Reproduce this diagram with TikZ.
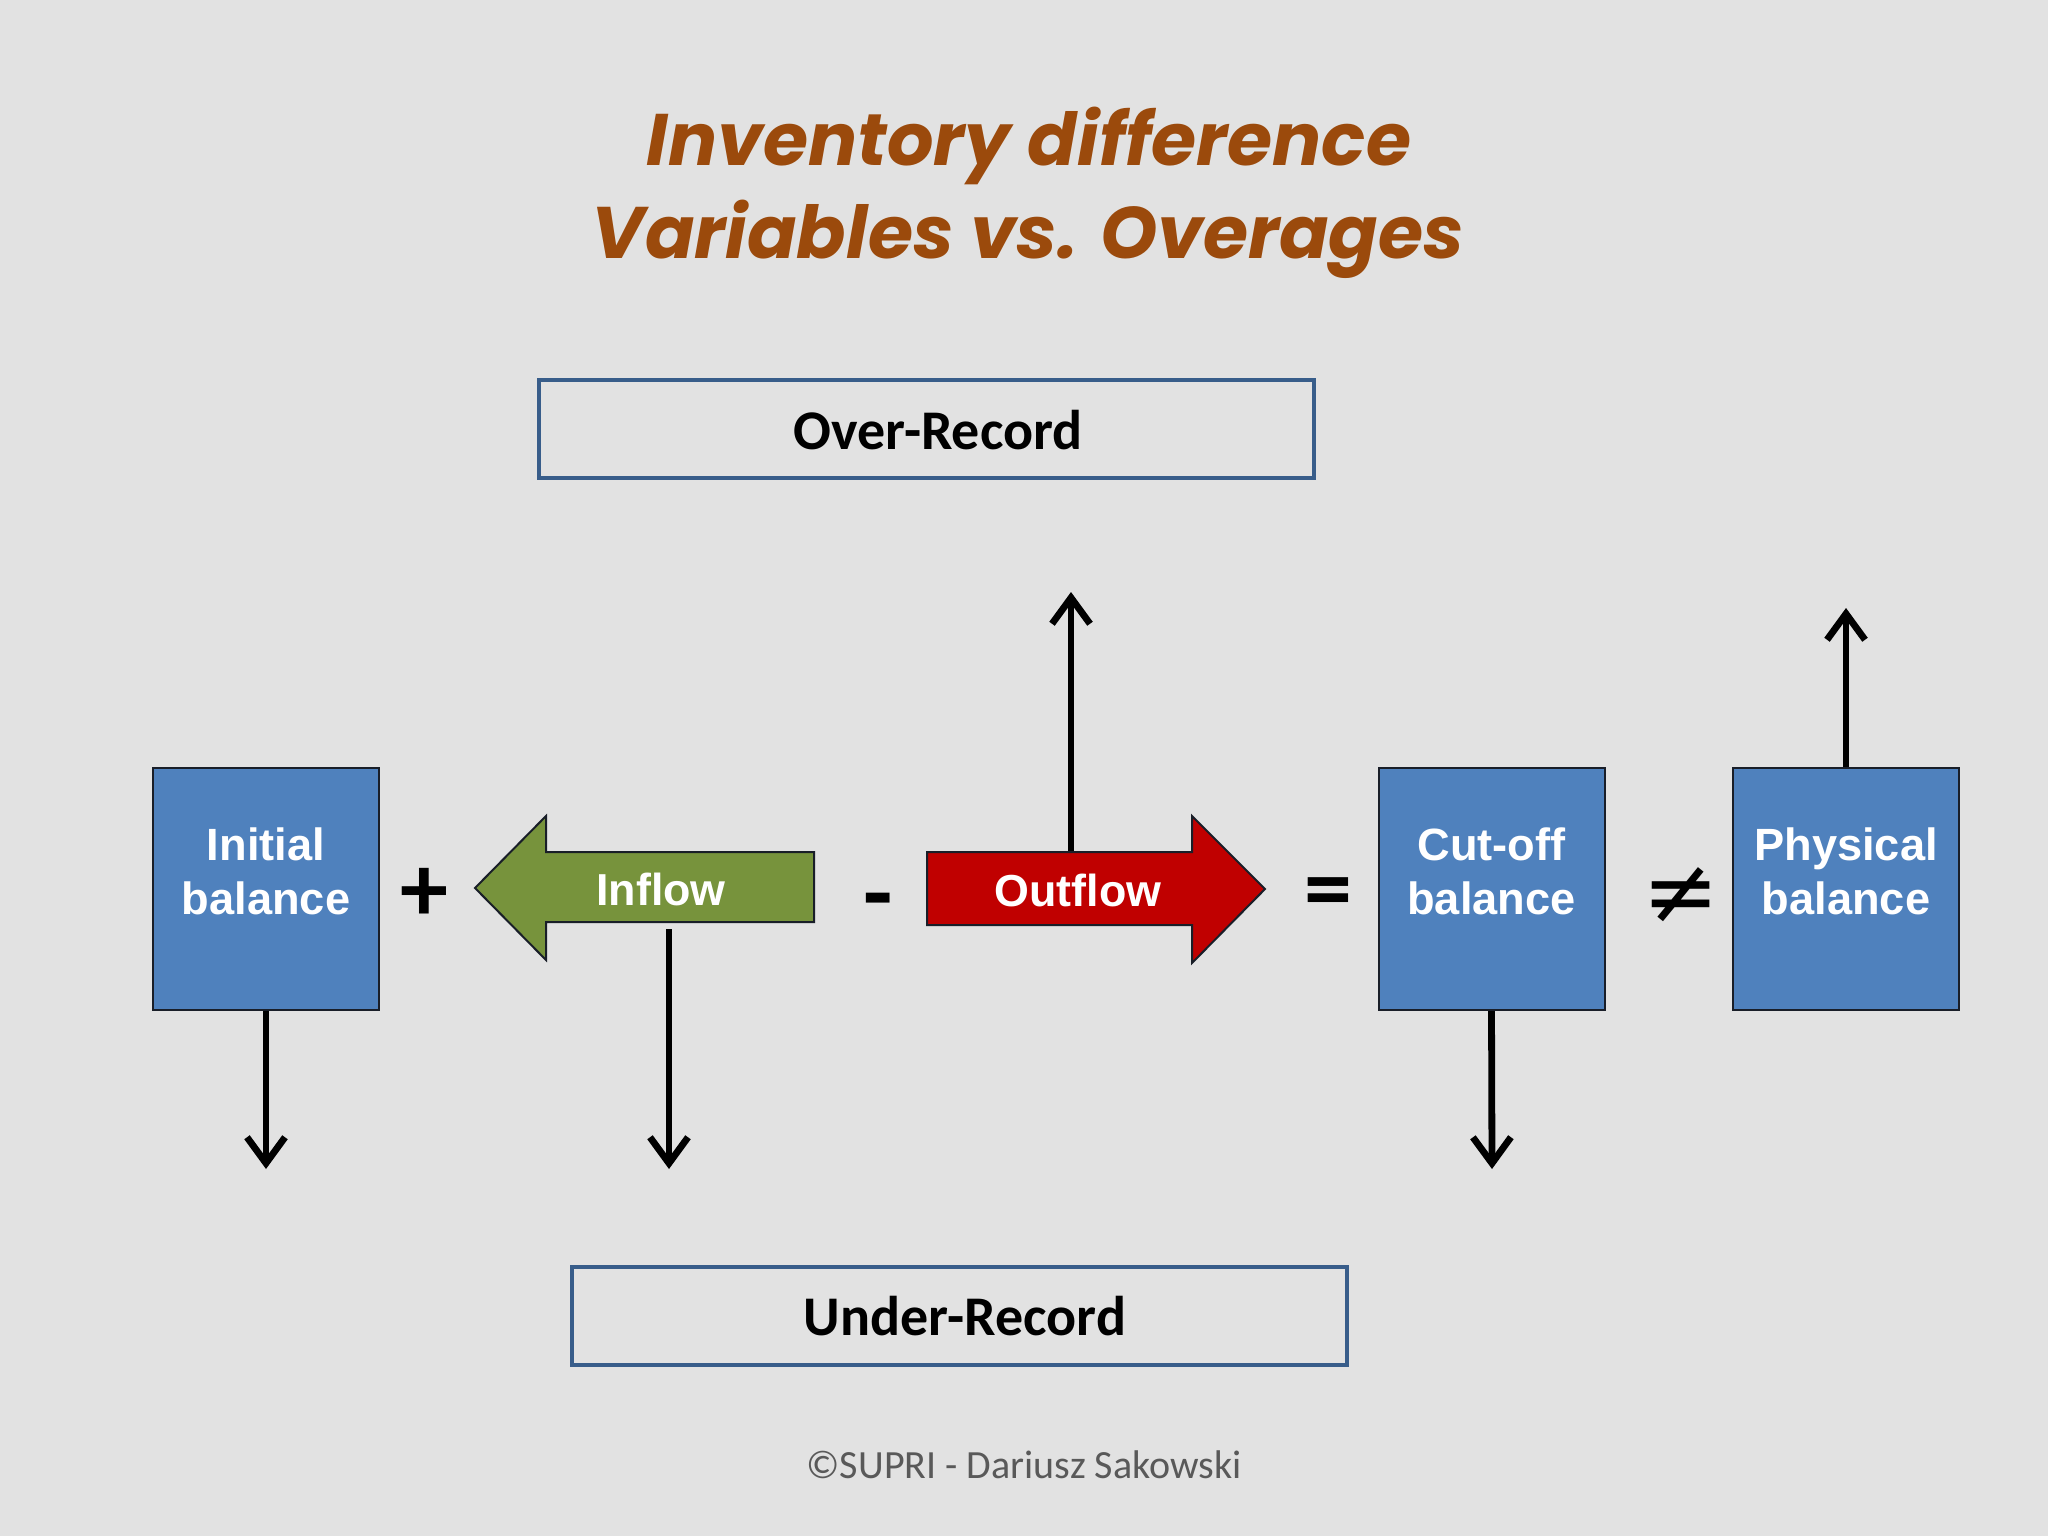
\documentclass[tikz,border=0pt]{standalone}
\usepackage{fontspec}
\usetikzlibrary{arrows.meta}
\newfontfamily\titlefont{Poppins}
\newfontfamily\boxfont{Liberation Sans}
\newfontfamily\calfont{Carlito}
\newfontfamily\symfont{DejaVu Sans}
\definecolor{bgcol}{RGB}{226,226,226}
\definecolor{titlecol}{RGB}{155,74,12}
\definecolor{boxblue}{RGB}{79,129,189}
\definecolor{framecol}{RGB}{56,93,138}
\definecolor{inflowgreen}{RGB}{119,147,60}
\definecolor{outflowred}{RGB}{192,0,0}
\definecolor{footgray}{RGB}{89,89,89}
\definecolor{edgecol}{RGB}{25,30,40}
\begin{document}
\begin{tikzpicture}[x=0.5pt,y=-0.5pt,
  bluebox/.style={draw=edgecol, line width=1pt, fill=boxblue, minimum width=113pt, minimum height=121pt, inner sep=0pt},
  boxtext/.style={text=white, font=\boxfont\bfseries\fontsize{22.6}{27}\selectfont, align=center, inner sep=0pt},
  recbox/.style={draw=framecol, line width=2pt, minimum width=387.5pt, minimum height=49pt, inner sep=0pt},
  rectext/.style={font=\calfont\bfseries\fontsize{28}{30}\selectfont, text=black, inner sep=0pt, anchor=base},
  optext/.style={font=\calfont\bfseries\fontsize{48}{48}\selectfont, text=black, inner sep=0pt},
  flowtext/.style={text=white, font=\boxfont\bfseries\fontsize{22.4}{26}\selectfont, inner sep=0pt, anchor=base},
  titletext/.style={text=titlecol, font=\titlefont\bfseries\itshape\fontsize{36.5}{40}\selectfont, inner sep=0pt, anchor=base},
  flowshape/.style={draw=edgecol, line width=1pt},
  conn/.style={line width=3.4pt, -{Straight Barb[length=13pt,width=19pt]}},
]
\useasboundingbox (0,0) rectangle (2048,1536);
\fill[bgcol] (0,0) rectangle (2048,1536);

% title
\node[titletext] (title1) at (1029,165) {Inventory difference};
\node[titletext] (title2) at (1028,258) {Variables vs. Overages};

% record boxes
\node[recbox] (over) at (926.5,429) {};
\node[rectext] (overtext) at (938,449) {Over-Record};
\node[recbox] (under) at (959,1316) {};
\node[rectext] (undertext) at (965,1335) {Under-Record};

% blue boxes
\node[bluebox] (initial) at (266,889) {};
\node[boxtext] (initialtext) at (266,871) {Initial\\balance};
\node[bluebox] (cutoff) at (1491.5,889) {};
\node[boxtext] (cutofftext) at (1491.5,871) {Cut-off\\balance};
\node[bluebox] (physical) at (1846,889) {};
\node[boxtext] (physicaltext) at (1846,871) {Physical\\balance};

% inflow arrow (pointing left)
\fill[inflowgreen] (475,888) -- (546,816) -- (546,852) -- (814,852) -- (814,922) -- (546,922) -- (546,960) -- cycle;
\draw[flowshape] (475,888) -- (546,816) -- (546,852) -- (814,852) -- (814,922) -- (546,922) -- (546,960) -- cycle;
\node[flowtext] (inflow) at (661,905) {Inflow};
\coordinate (inflowbottom) at (669,929);

% outflow arrow (pointing right)
\fill[outflowred] (927,852) -- (1192,852) -- (1192,816) -- (1265,889) -- (1192,963) -- (1192,925) -- (927,925) -- cycle;
\draw[flowshape] (927,852) -- (1192,852) -- (1192,816) -- (1265,889) -- (1192,963) -- (1192,925) -- (927,925) -- cycle;
\node[flowtext] (outflow) at (1078,906) {Outflow};
\coordinate (outflowtop) at (1071,851);

% operators
\node[optext] (plus) at (424,895) {+};
\node[optext] (minus) at (878,909) {-};
\node[optext] (equals) at (1328,899) {=};
\node[text=black, font=\symfont\fontsize{46}{46}\selectfont, inner sep=0pt] (neq) at (1681,896) {≠};

% connector ends
\coordinate (e1) at (266,1169);
\coordinate (e2) at (669,1169);
\coordinate (e3) at (1071,592);
\coordinate (e4) at (1492,1169);
\coordinate (e5) at (1846,608);

\draw[conn] (initial.south) -- (e1);
\draw[conn] (inflowbottom) -- (e2);
\draw[conn] (outflowtop) -- (e3);
\draw[conn] (cutoff.south) -- (e4);
\draw[conn] (physical.north) -- (e5);

% footer
\node[font=\calfont\fontsize{20}{22}\selectfont, text=footgray, inner sep=0pt, anchor=base] (footer) at (1024,1478) {©SUPRI - Dariusz Sakowski};
\end{tikzpicture}
\end{document}
